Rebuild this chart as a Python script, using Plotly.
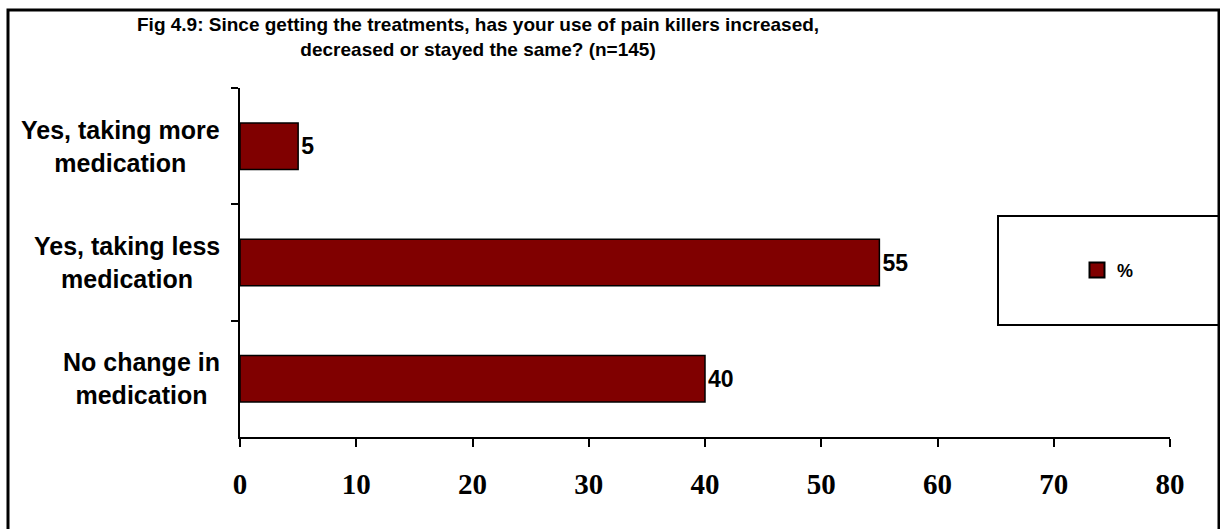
import plotly.graph_objects as go

categories = ["Yes, taking more<br>medication", "Yes, taking less<br>medication", "No change in<br>medication"]
values = [5, 55, 40]
series_name = "%"
x_ticks = [0, 10, 20, 30, 40, 50, 60, 70, 80]

BAR_RED = "#800000"
SANS = "Liberation Sans, Arial"

fig = go.Figure()
fig.add_trace(go.Bar(
    y=categories,
    x=values,
    orientation="h",
    name=series_name,
    marker=dict(color=BAR_RED, line=dict(color="black", width=1.5)),
    text=[str(v) for v in values],
    textposition="outside",
    textfont=dict(family=SANS, size=23, color="black", weight="bold"),
    cliponaxis=False,
    showlegend=False,
))
# legend entry only (bigger square swatch than the bar legend gives)
fig.add_trace(go.Scatter(
    x=[None], y=[None], mode="markers", name=series_name,
    marker=dict(symbol="square", size=15, color=BAR_RED, line=dict(color="black", width=2)),
    showlegend=True,
))

# category labels, centred line by line like the original
annotations = []
for cat in categories:
    annotations.append(dict(
        x=-0.019, xref="paper", y=cat, yref="y",
        text=f"<b>{cat}</b>", showarrow=False,
        xanchor="right", yanchor="middle", align="center",
        font=dict(family=SANS, size=25, color="black"),
    ))
# chart title (pixel position converted to paper coords)
annotations.append(dict(
    x=(478 - 240) / 930, xref="paper", y=(437 - 12) / 349, yref="paper",
    text="<b>Fig 4.9: Since getting the treatments, has your use of pain killers increased,<br>decreased or stayed the same? (n=145)</b>",
    showarrow=False, xanchor="center", yanchor="top", align="center",
    font=dict(family=SANS, size=19, color="black"),
))

fig.update_layout(
    width=1220, height=529,
    margin=dict(l=240, r=50, t=88, b=92),
    paper_bgcolor="white", plot_bgcolor="white",
    bargap=0.6,
    legend=dict(
        x=0.9, y=0.478, xanchor="left", yanchor="middle",
        bgcolor="rgba(0,0,0,0)", borderwidth=0,
        font=dict(family=SANS, size=18, color="black", weight="bold"),
        itemwidth=30,
    ),
    annotations=annotations,
    shapes=[
        # outer chart frame
        dict(type="rect", xref="paper", yref="paper",
             x0=(8 - 240) / 930, x1=(1219 - 240) / 930,
             y0=(437 - 10) / 349, y1=-0.4,
             line=dict(color="black", width=3)),
        # legend box
        dict(type="rect", xref="paper", yref="paper",
             x0=(998 - 240) / 930, x1=(1222 - 240) / 930,
             y0=(437 - 325) / 349, y1=(437 - 216) / 349,
             line=dict(color="black", width=2)),
    ],
)

fig.update_xaxes(
    range=[0, 80], tickvals=x_ticks, showgrid=False, zeroline=False,
    showline=True, linecolor="black", linewidth=2,
    ticks="outside", ticklen=8, tickwidth=2, tickcolor="black",
    ticklabelstandoff=12,
    tickfont=dict(family="Liberation Serif, Times New Roman", size=29, color="black", weight="bold"),
)
fig.update_yaxes(
    autorange="reversed", showgrid=False, zeroline=False,
    showline=True, linecolor="black", linewidth=2,
    ticks="outside", ticklen=7, tickwidth=2, tickcolor="black",
    tickson="boundaries", showticklabels=False,
)

fig.write_html(
    "out.html",
    config={"displayModeBar": False},
    post_script="document.body.style.margin='0';document.body.style.overflow='hidden';",
)
